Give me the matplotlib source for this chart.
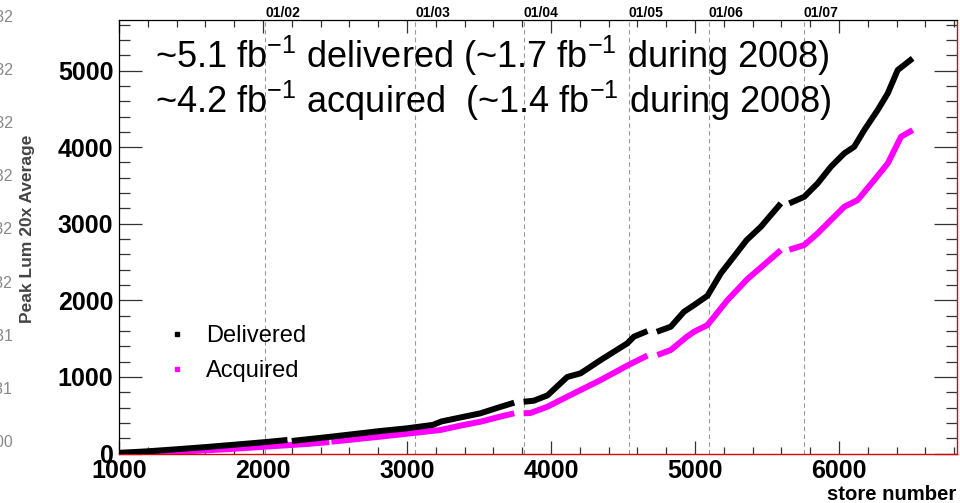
import numpy as np
import matplotlib
matplotlib.use('Agg')
from matplotlib import pyplot as plt
from matplotlib.lines import Line2D
from matplotlib.ticker import MultipleLocator

plt.rcParams['font.family'] = ['Liberation Sans', 'DejaVu Sans']
plt.rcParams['mathtext.default'] = 'regular'

nan = np.nan

# cumulative luminosity (pb^-1) vs store number, nan = no stores in that range
delivered_store = [1000, 1200, 1425, 1600, 1775, 2015, 2170, nan, 2200, 2470, 2815, 3000,
                   3180, 3240, 3510, 3650, 3745, nan, 3810, 3880, 3976, 4113, 4206, 4345,
                   4530, 4576, 4670, nan, 4735, 4832, 4924, 4994, 5087, 5180, 5270, 5359,
                   5458, 5530, 5597, nan, 5655, 5759, 5852, 5944, 6037, 6106, 6176, 6269,
                   6339, 6408, 6512]
delivered_lum = [10, 30, 60, 85, 112, 150, 178, nan, 165, 220, 295, 330,
                 375, 420, 526, 610, 665, nan, 677, 690, 760, 1000, 1048, 1221,
                 1439, 1526, 1600, nan, 1590, 1656, 1852, 1939, 2060, 2353, 2570, 2787,
                 2961, 3120, 3266, nan, 3266, 3352, 3527, 3744, 3919, 4005, 4223, 4484,
                 4702, 5006, 5159]

acquired_store = [1000, 1425, 1775, 2015, 2300, 2460, nan, 2475, 2815, 3024, 3232, 3392,
                  3510, 3646, 3745, nan, 3810, 3858, 3976, 4113, 4206, 4345, 4537, 4670,
                  nan, 4739, 4832, 4944, 4994, 5087, 5226, 5365, 5458, 5597, nan, 5655,
                  5759, 5852, 5944, 6037, 6130, 6245, 6339, 6431, 6512]
acquired_lum = [5, 25, 60, 90, 125, 150, nan, 155, 221, 265, 308, 373,
                416, 482, 526, nan, 526, 530, 612, 743, 830, 960, 1156, 1280,
                nan, 1287, 1352, 1526, 1591, 1678, 2004, 2280, 2430, 2657, nan, 2661,
                2722, 2875, 3048, 3222, 3309, 3570, 3788, 4136, 4223]

# first store of each month
month_store = [2015, 3056, 3812, 4542, 5097, 5757]
month_label = ['01/02', '01/03', '01/04', '01/05', '01/06', '01/07']

# leftover tick labels of the neighbouring panel
side_labels = ['3.2e+32', '2.8e+32', '2.4e+32', '2e+32', '1.6e+32', '1.2e+32',
               '8e+31', '4e+31', '0e+00']

W, H = 960, 503
fig = plt.figure(figsize=(9.6, 5.03), dpi=100)
ax = fig.add_axes([119 / W, 1 - 453.6 / H, 838 / W, 434 / H])

ax.plot(delivered_store, delivered_lum, color='black', lw=4.3, solid_capstyle='butt', zorder=3)
ax.plot(acquired_store, acquired_lum, color='#ff00ff', lw=4.3, solid_capstyle='butt', zorder=2)

for s, lab in zip(month_store, month_label):
    ax.axvline(s, color='#999999', ls=(0, (4, 3)), lw=0.8, zorder=1)
    ax.text(s, 1.0, lab, transform=ax.get_xaxis_transform(), ha='left', va='bottom',
            fontsize=10, fontweight='bold')

ax.set_xlim(1000, 6820)
ax.set_ylim(0, 5665)
ax.xaxis.set_major_locator(MultipleLocator(1000))
ax.xaxis.set_minor_locator(MultipleLocator(200))
ax.yaxis.set_major_locator(MultipleLocator(1000))
ax.yaxis.set_minor_locator(MultipleLocator(200))
ax.tick_params(axis='both', which='both', direction='in', top=True, right=True,
               color='#333333', width=0.9)
ax.tick_params(axis='x', which='major', length=9.5, pad=4, labelsize=18)
ax.tick_params(axis='x', which='minor', length=5)
ax.tick_params(axis='y', which='major', length=16.5, pad=4, labelsize=18)
ax.tick_params(axis='y', which='minor', length=8)
for lab in ax.get_xticklabels() + ax.get_yticklabels():
    lab.set_fontweight('bold')

for side in ['left', 'top']:
    ax.spines[side].set_color('black')
    ax.spines[side].set_linewidth(0.9)
for side in ['bottom', 'right']:
    ax.spines[side].set_color('#e00000')
    ax.spines[side].set_linewidth(1.0)

fig.text(956 / W, 1 - 494 / H, 'store number', ha='right', va='center',
         fontsize=14.6, fontweight='bold')
fig.text(28 / W, 1 - 229 / H, 'Peak Lum 20x Average', rotation=90, ha='center',
         va='center', fontsize=12.5, fontweight='bold', color='#444444')

for i, lab in enumerate(side_labels):
    fig.text(13 / W, 1 - (17 + 53.2 * i) / H, lab, ha='right', va='center',
             fontsize=11.5, color='#888888')

fig.text(155 / W, 1 - 56 / H, '~5.1 fb$^{-1}$ delivered (~1.7 fb$^{-1}$ during 2008)',
         ha='left', va='center', fontsize=26)
fig.text(155 / W, 1 - 101 / H, '~4.2 fb$^{-1}$ acquired  (~1.4 fb$^{-1}$ during 2008)',
         ha='left', va='center', fontsize=26)

handles = [Line2D([], [], ls='none', marker='s', ms=3.5, color='black'),
           Line2D([], [], ls='none', marker='s', ms=3.5, color='#ff00ff')]
fig.legend(handles, ['Delivered', 'Acquired'], loc='upper left',
           bbox_to_anchor=(165 / W, 1 - 325 / H), frameon=False, fontsize=17,
           handlelength=1.0, handletextpad=0.75, labelspacing=0.55,
           borderpad=0, borderaxespad=0)

fig.savefig('out.png', dpi=100)
